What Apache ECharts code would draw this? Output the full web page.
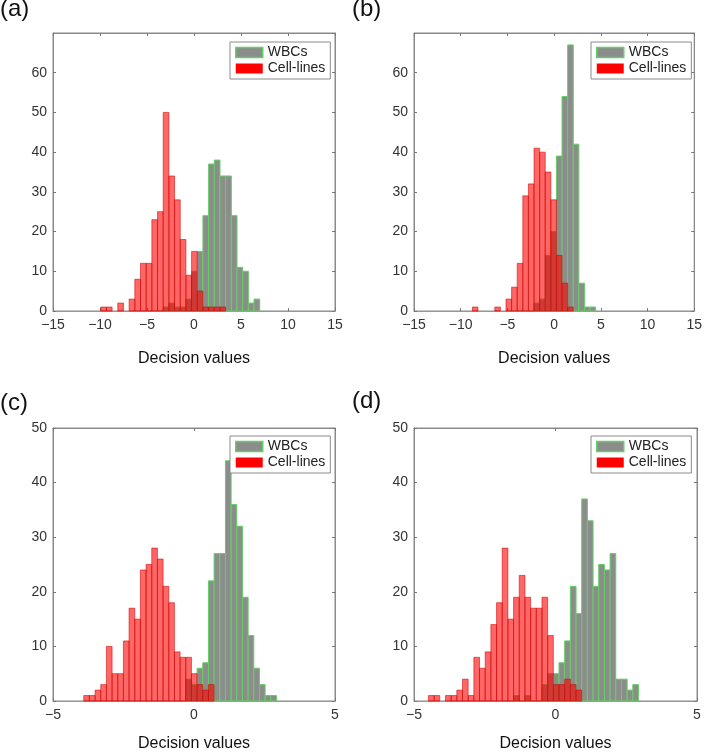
<!DOCTYPE html>
<html>
<head>
<meta charset="utf-8">
<script src="https://cdn.jsdelivr.net/npm/echarts@6/dist/echarts.min.js"></script>
<style>
html,body{margin:0;padding:0;background:#fff;}
#chart{width:705px;height:753px;}
</style>
</head>
<body>
<div id="chart"></div>
<script>
// ---- data (counts per histogram bin) ----
const panelLabels = ['(a)', '(b)', '(c)', '(d)'];
const seriesNames = ['WBCs', 'Cell-lines'];
const xTitle = 'Decision values';

// panel (a)
const aBinStart = -9.92, aBinWidth = 0.604;
const aRed = [1,1,0,2,0,3,8,12,12,23,25,50,34,28,18,9,15,5,1,1,1,1,0,0,0,0,0,0];
const aWbc = [0,0,0,0,0,0,0,0,0,0,0,1,2,1,1,3,10,15,24,37,38,34,34,24,11,10,2,3];
// panel (b)
const bBinStart = -8.75, bBinWidth = 0.6;
const bRed = [1,0,0,0,1,0,3,6,12,29,32,41,40,35,28,14,7,1,0,0,0,0];
const bWbc = [0,0,0,0,0,0,0,0,0,0,0,2,3,14,20,39,54,67,42,7,1,1];
// panel (c)
const cBinStart = -3.91, cBinWidth = 0.201;
const cRed = [1,1,2,3,10,5,5,11,17,15,24,25,28,26,21,18,9,8,8,5,3,2,3,0,0,0,0,0,0,0,0,0,0,0];
const cWbc = [0,0,0,0,0,0,0,0,0,0,0,0,0,0,0,0,0,0,4,3,6,7,22,27,27,44,36,32,19,12,6,3,1,1];
// panel (d)
const dBinStart = -4.49, dBinWidth = 0.2006;
const dRed = [1,1,0,1,1,2,4,1,8,6,9,14,18,28,15,19,23,19,17,17,19,12,3,3,4,3,2,0,0,0,0,0,0,0,0,0,0];
const dWbc = [0,0,0,0,0,0,0,0,0,0,0,0,0,0,0,1,0,1,0,0,3,5,5,7,11,21,16,37,33,21,25,24,27,4,4,2,3];

// axis ranges / ticks
const xRanges = [[-15,15,5],[-15,15,5],[-5,5,5],[-5,5,5]];
const yRanges = [[0,70,10,false],[0,70,10,false],[0,50,10,true],[0,50,10,true]];

// ---- layout ----
const grids = [
  {left:53, top:33, width:282, height:278},
  {left:414, top:33, width:284, height:278},
  {left:53, top:428, width:282, height:277},
  {left:414, top:428, width:283, height:277}
];
const legendPos = [
  {left:230, top:42}, {left:591, top:42}, {left:230, top:436}, {left:591, top:436}
];
const titlePos = [
  {left:0, top:-3}, {left:352, top:-3}, {left:0, top:391}, {left:352, top:389}
];
const nameGaps = [40, 40, 35, 35];

const panels = [
  [aBinStart, aBinWidth, aWbc, aRed],
  [bBinStart, bBinWidth, bWbc, bRed],
  [cBinStart, cBinWidth, cWbc, cRed],
  [dBinStart, dBinWidth, dWbc, dRed]
];

function binData(start, width, counts) {
  const out = [];
  counts.forEach((c, k) => {
    if (c > 0) out.push([start + k * width, start + (k + 1) * width, c]);
  });
  return out;
}

const FONT = 'Liberation Sans, Arial, sans-serif';
const minus = v => String(v).replace('-', '\u2212');

const styles = {
  wbc: {fill:'#8c8c8c', stroke:'#62d062', lineWidth:1},
  red: {fill:'rgba(255,0,0,0.6)', stroke:'rgba(205,0,0,0.55)', lineWidth:1}
};

function makeRender(st) {
  return function (params, api) {
    const p0 = api.coord([api.value(0), api.value(2)]);
    const p1 = api.coord([api.value(1), 0]);
    return {
      type:'rect',
      shape:{x:p0[0], y:p0[1], width:p1[0]-p0[0], height:p1[1]-p0[1]},
      style:{fill:st.fill, stroke:st.stroke, lineWidth:st.lineWidth}
    };
  };
}

const option = {
  backgroundColor:'#fff',
  animation:false,
  title: panelLabels.map((t, i) => ({
    text:t, left:titlePos[i].left, top:titlePos[i].top, padding:0,
    textStyle:{fontSize:24, fontWeight:'normal', color:'#111', fontFamily:FONT}
  })),
  grid: grids.map(g => Object.assign({show:true, borderColor:'#8a8a8a', borderWidth:1, backgroundColor:'#fff'}, g)),
  legend: legendPos.map(p => ({
    left:p.left, top:p.top, orient:'vertical', selectedMode:false,
    backgroundColor:'#fff', borderColor:'#8a8a8a', borderWidth:1, borderRadius:0,
    padding:[3,5,3,5], itemWidth:27, itemHeight:10, itemGap:1,
    textStyle:{fontSize:14, color:'#222', fontFamily:FONT, lineHeight:15},
    data:[
      {name:seriesNames[0], icon:'rect', itemStyle:{color:'#8c8c8c', borderColor:'#62d062', borderWidth:1.5}},
      {name:seriesNames[1], icon:'rect', itemStyle:{color:'#ff0000', borderWidth:0}}
    ]
  })),
  xAxis: [],
  yAxis: [],
  series: []
};

grids.forEach((g, i) => {
  const [xmin, xmax, xint] = xRanges[i];
  const [ymin, ymax, yint, showMax] = yRanges[i];
  option.xAxis.push({
    type:'value', gridIndex:i, min:xmin, max:xmax, interval:xint, position:'bottom',
    name:xTitle, nameLocation:'middle', nameGap:nameGaps[i],
    nameTextStyle:{fontSize:16, color:'#111', fontFamily:FONT},
    axisLine:{show:true, onZero:false, lineStyle:{color:'#ee7070', width:1}},
    axisTick:{show:true, inside:true, length:3, lineStyle:{color:'#777'}},
    axisLabel:{fontSize:14, color:'#333', margin:7, fontFamily:FONT, formatter:minus},
    splitLine:{show:false}
  });
  option.xAxis.push({
    type:'value', gridIndex:i, min:xmin, max:xmax, interval:xint, position:'top',
    axisLine:{show:true, onZero:false, lineStyle:{color:'#8a8a8a'}},
    axisTick:{show:true, inside:true, length:3, lineStyle:{color:'#777'}},
    axisLabel:{show:false}, splitLine:{show:false}
  });
  option.yAxis.push({
    type:'value', gridIndex:i, min:ymin, max:ymax, interval:yint, position:'left',
    axisLine:{show:true, onZero:false, lineStyle:{color:'#8a8a8a'}},
    axisTick:{show:true, inside:true, length:3, lineStyle:{color:'#777'}},
    axisLabel:{fontSize:14, color:'#333', margin:6, fontFamily:FONT, showMaxLabel:showMax},
    splitLine:{show:false}
  });
  option.yAxis.push({
    type:'value', gridIndex:i, min:ymin, max:ymax, interval:yint, position:'right',
    axisLine:{show:true, onZero:false, lineStyle:{color:'#8a8a8a'}},
    axisTick:{show:true, inside:true, length:3, lineStyle:{color:'#777'}},
    axisLabel:{show:false}, splitLine:{show:false}
  });
  const [start, width, wbc, red] = panels[i];
  option.series.push({
    name:seriesNames[0], type:'custom', xAxisIndex:2*i, yAxisIndex:2*i,
    renderItem:makeRender(styles.wbc), encode:{x:[0,1], y:2},
    itemStyle:{color:'#8c8c8c'}, data:binData(start, width, wbc), z:2
  });
  option.series.push({
    name:seriesNames[1], type:'custom', xAxisIndex:2*i, yAxisIndex:2*i,
    renderItem:makeRender(styles.red), encode:{x:[0,1], y:2},
    itemStyle:{color:'#ff0000'}, data:binData(start, width, red), z:3
  });
});

const chart = echarts.init(document.getElementById('chart'), null, {renderer:'canvas'});
chart.setOption(option);
</script>
</body>
</html>
